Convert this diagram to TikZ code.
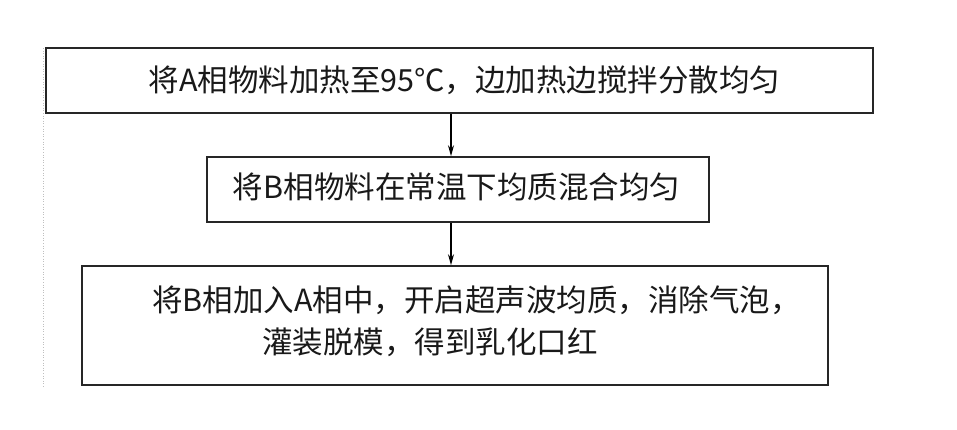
\documentclass[tikz,border=0pt]{standalone}
\usepackage{fontspec}
\setmainfont{Liberation Serif}
\newfontfamily\cjk{Noto Sans CJK SC}
\usetikzlibrary{arrows.meta}
\tikzset{
  stepbox/.style={draw=black!85, line width=1.6pt, rectangle, inner sep=0pt},
  txt/.style={font=\cjk\fontsize{30.5}{42}\selectfont, inner sep=0pt, text=black!90},
  arr/.style={draw=black, line width=1.2pt, -{Stealth[length=11pt,width=6pt]}},
}
\begin{document}
\begin{tikzpicture}[x=1pt,y=-1pt]
\useasboundingbox (0,0) rectangle (957,429);
\fill[white] (0,0) rectangle (957,429);
\draw[black!25, line width=0.6pt, dotted] (43,48) -- (43,387);
\node[stepbox, minimum width=827pt, minimum height=65pt] (b1) at (459.5,80.5) {};
\node[stepbox, minimum width=502pt, minimum height=65pt] (b2) at (458,189.5) {};
\node[stepbox, minimum width=746pt, minimum height=119pt] (b3) at (455,325.5) {};
\node[txt] (t1) at (464.5,80) {将A相物料加热至95℃，边加热边搅拌分散均匀};
\node[txt] (t2) at (456.5,187) {将B相物料在常温下均质混合均匀};
\node[txt, anchor=west] (t3) at (152,300) {将B相加入A相中，开启超声波均质，消除气泡，};
\node[txt, anchor=west] (t4) at (262,342) {灌装脱模，得到乳化口红};
\coordinate (ax) at (451,0);
\draw[arr] (b1.south -| ax) -- (b2.north -| ax);
\draw[arr] (b2.south -| ax) -- (b3.north -| ax);
\end{tikzpicture}
\end{document}
